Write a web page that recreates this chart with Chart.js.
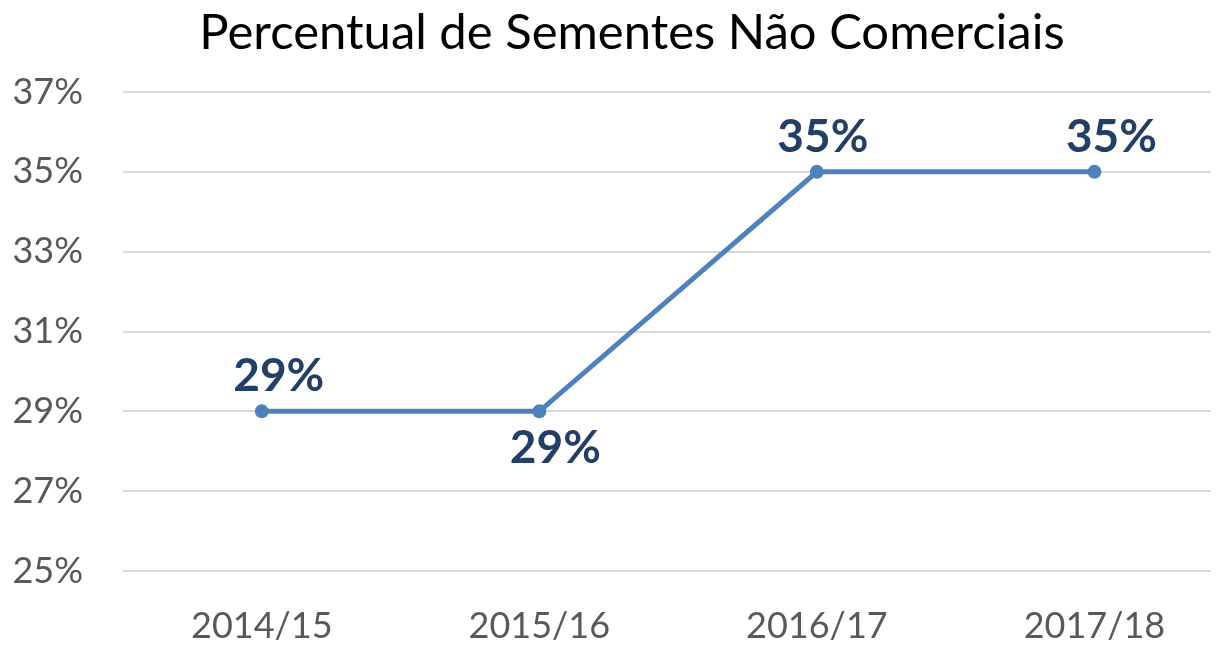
<!DOCTYPE html>
<html>
<head>
<meta charset="utf-8">
<script src="https://cdn.jsdelivr.net/npm/chart.js@4"></script>
<style>
  html, body { margin: 0; padding: 0; background: #fff; }
  #wrap { width: 1218px; height: 647px; }
</style>
</head>
<body>
<div id="wrap"><canvas id="chart"></canvas></div>
<script>
const chartTitle = 'Percentual de Sementes Não Comerciais'
const categories = ['2014/15', '2015/16', '2016/17', '2017/18']
const values = [29, 29, 35, 35]
const yTicks = [25, 27, 29, 31, 33, 35, 37]

const FONT = "Lato, 'Open Sans', sans-serif"
const lineColor = '#4F81BD'

// where each value label sits relative to its point (as placed in the original)
const labelSide = ['above', 'below', 'above', 'above']
const labelShiftX = [17, 16, 6, 17]

const dataLabels = {
  id: 'dataLabels',
  afterDatasetsDraw (chart) {
    const ctx = chart.ctx
    const meta = chart.getDatasetMeta(0)
    ctx.save()
    ctx.font = 'bold 46px ' + FONT
    ctx.fillStyle = '#243F66'
    ctx.textAlign = 'center'
    ctx.textBaseline = 'middle'
    meta.data.forEach((pt, i) => {
      const dy = labelSide[i] === 'below' ? 37 : -35
      ctx.fillText(values[i] + '%', pt.x + labelShiftX[i], pt.y + dy)
    })
    ctx.restore()
  }
}

// title is centred a bit right of the canvas middle in the original
const titleText = {
  id: 'titleText',
  afterDraw (chart) {
    const ctx = chart.ctx
    ctx.save()
    ctx.font = '49px ' + FONT
    ctx.fillStyle = '#000'
    ctx.textAlign = 'center'
    ctx.textBaseline = 'middle'
    ctx.fillText(chartTitle, 632, 33)
    ctx.restore()
  }
}

const ctx = document.getElementById('chart')

new Chart(ctx, {
  type: 'line',
  data: {
    datasets: [{
      data: values.map((v, i) => ({ x: i, y: v })),
      borderColor: lineColor,
      backgroundColor: lineColor,
      borderWidth: 5,
      pointRadius: 7,
      pointBackgroundColor: lineColor,
      pointBorderWidth: 0,
      tension: 0
    }]
  },
  options: {
    responsive: true,
    maintainAspectRatio: false,
    animation: false,
    layout: { padding: { left: 0, right: 6, top: 92, bottom: 0 } },
    plugins: {
      legend: { display: false },
      tooltip: { enabled: false },
      title: { display: false }
    },
    scales: {
      x: {
        type: 'linear',
        min: -0.5,
        max: 3.42,
        grid: { display: false, drawTicks: false },
        border: { display: false },
        afterBuildTicks: (scale) => {
          scale.ticks = categories.map((c, i) => ({ value: i }))
        },
        afterFit: (scale) => { scale.height = 76 },
        ticks: {
          padding: 34,
          color: '#595959',
          font: { family: FONT, size: 36 },
          callback: (v) => categories[v] ?? ''
        }
      },
      y: {
        min: 25,
        max: 37,
        afterBuildTicks: (scale) => {
          scale.ticks = yTicks.map(v => ({ value: v }))
        },
        afterFit: (scale) => { scale.width = 123 },
        grid: { color: '#D9D9D9', lineWidth: 2, drawTicks: false },
        border: { display: false },
        ticks: {
          padding: 40,
          color: '#595959',
          font: { family: FONT, size: 36 },
          callback: (v) => v + '%'
        }
      }
    }
  },
  plugins: [dataLabels, titleText]
})
</script>
</body>
</html>
